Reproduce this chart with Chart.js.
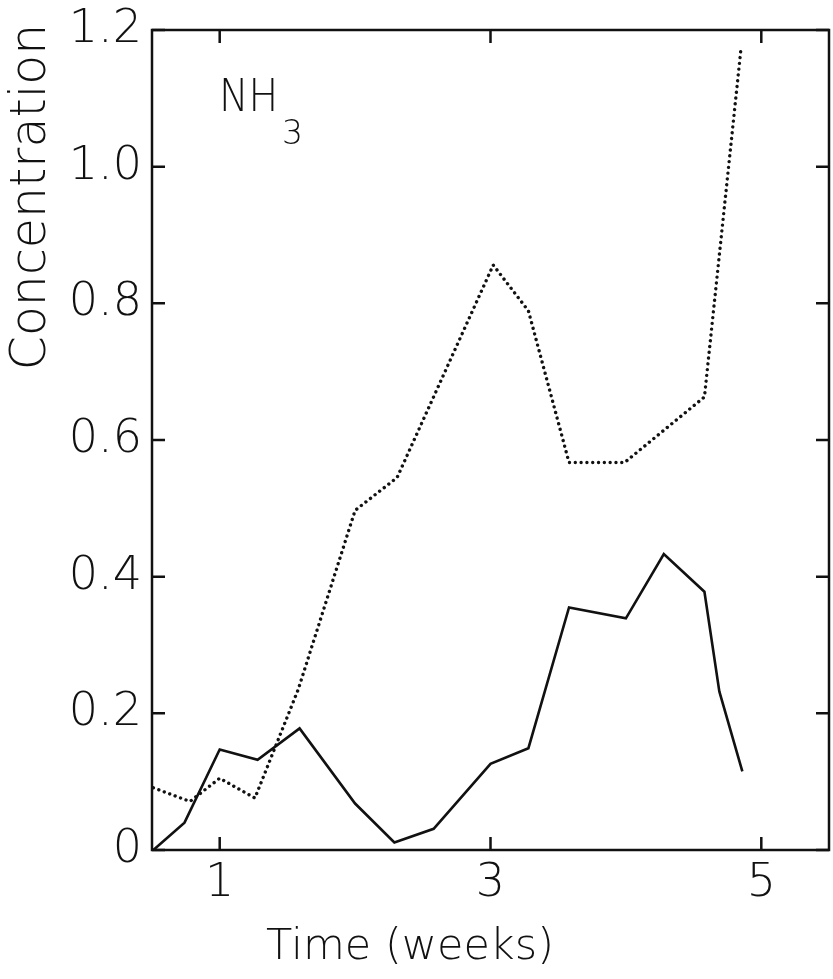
<!DOCTYPE html>
<html>
<head>
<meta charset="utf-8">
<script src="https://cdn.jsdelivr.net/npm/chart.js@4/dist/chart.umd.min.js"></script>
<style>
  html, body { margin: 0; padding: 0; background: #ffffff; }
  #wrap { width: 833px; height: 979px; }
</style>
</head>
<body>
<div id="wrap"><canvas id="chart" width="833" height="979"></canvas></div>
<script>
// NH3 concentration over time, two runs (solid and dotted)
const solidWeeks = [0.51, 0.74, 1.0, 1.28, 1.59, 2.0, 2.29, 2.58, 3.0, 3.28, 3.58, 4.0, 4.28, 4.58, 4.69, 4.86]
const solidConc = [0.0, 0.04, 0.147, 0.132, 0.178, 0.068, 0.011, 0.031, 0.126, 0.149, 0.355, 0.339, 0.433, 0.378, 0.232, 0.115]

const dottedWeeks = [0.51, 0.78, 1.0, 1.26, 1.58, 2.0, 2.31, 3.02, 3.28, 3.58, 3.99, 4.58, 4.85]
const dottedConc = [0.091, 0.071, 0.105, 0.076, 0.235, 0.497, 0.545, 0.856, 0.789, 0.567, 0.567, 0.663, 1.173]

const xTicks = [1, 3, 5]
const yTicks = [0, 0.2, 0.4, 0.6, 0.8, 1.0, 1.2]

const xTitle = "Time (weeks)"
const yTitle = "Concentration"

const FONT = "'DejaVu Sans', sans-serif"
const INK = "#111111"

const toPoints = (xs, ys) => xs.map((x, i) => ({ x: x, y: ys[i] }))

// frame, inward ticks on all four sides, axis titles and the NH3 label
const framePlugin = {
  id: "frame",
  afterDraw(chart) {
    const { ctx, chartArea: a, scales } = chart
    const tick = 13
    ctx.save()
    ctx.strokeStyle = INK
    ctx.lineWidth = 2.5
    ctx.strokeRect(a.left, a.top, a.right - a.left, a.bottom - a.top)

    ctx.beginPath()
    yTicks.forEach(v => {
      const py = scales.y.getPixelForValue(v)
      ctx.moveTo(a.left, py); ctx.lineTo(a.left + tick, py)
      ctx.moveTo(a.right, py); ctx.lineTo(a.right - tick, py)
    })
    xTicks.forEach(v => {
      const px = scales.x.getPixelForValue(v)
      ctx.moveTo(px, a.bottom); ctx.lineTo(px, a.bottom - tick)
      ctx.moveTo(px, a.top); ctx.lineTo(px, a.top + tick)
    })
    ctx.stroke()

    ctx.fillStyle = INK
    ctx.textAlign = "center"
    ctx.textBaseline = "middle"
    ctx.font = `300 43px ${FONT}`
    ctx.fillText(xTitle, 410, 948)

    ctx.save()
    ctx.translate(32, 197)
    ctx.rotate(-Math.PI / 2)
    ctx.font = `300 49px ${FONT}`
    ctx.fillText(yTitle, 0, 0)
    ctx.restore()

    ctx.textAlign = "left"
    ctx.textBaseline = "alphabetic"
    ctx.font = `300 45px ${FONT}`
    ctx.save()
    ctx.translate(219, 111)
    ctx.scale(0.88, 1)
    ctx.fillText("NH", 0, 0)
    ctx.restore()
    ctx.font = `300 33px ${FONT}`
    ctx.fillText("3", 282, 144)
    ctx.restore()
  }
}

new Chart(document.getElementById("chart"), {
  type: "scatter",
  data: {
    datasets: [
      {
        data: toPoints(solidWeeks, solidConc),
        showLine: true,
        borderColor: INK,
        borderWidth: 2.6,
        pointRadius: 0,
        tension: 0
      },
      {
        data: toPoints(dottedWeeks, dottedConc),
        showLine: true,
        borderColor: INK,
        borderWidth: 3.4,
        borderDash: [0.01, 5.8],
        borderCapStyle: "round",
        pointRadius: 0,
        tension: 0
      }
    ]
  },
  options: {
    responsive: false,
    animation: false,
    layout: {
      padding: { top: 30, right: 4, left: 0, bottom: 0 }
    },
    plugins: {
      legend: { display: false },
      tooltip: { enabled: false }
    },
    scales: {
      x: {
        type: "linear",
        min: 0.5,
        max: 5.5,
        afterBuildTicks: scale => {
          scale.ticks = xTicks.map(v => ({ value: v }))
        },
        afterFit: scale => {
          scale.height = 129
          scale.paddingLeft = 0
          scale.paddingRight = 0
        },
        grid: { display: false, drawTicks: false },
        border: { display: false },
        ticks: {
          padding: 6,
          color: INK,
          font: { family: FONT, size: 46, weight: 300 },
          callback: v => String(v)
        }
      },
      y: {
        min: 0,
        max: 1.2,
        afterBuildTicks: scale => {
          scale.ticks = yTicks.map(v => ({ value: v }))
        },
        afterFit: scale => {
          scale.width = 152
          scale.paddingTop = 0
          scale.paddingBottom = 0
        },
        grid: { display: false, drawTicks: false },
        border: { display: false },
        ticks: {
          padding: 10,
          color: INK,
          font: { family: FONT, size: 46, weight: 300 },
          callback: v => v === 0 ? "0" : v.toFixed(1)
        }
      }
    }
  },
  plugins: [framePlugin]
})
</script>
</body>
</html>
